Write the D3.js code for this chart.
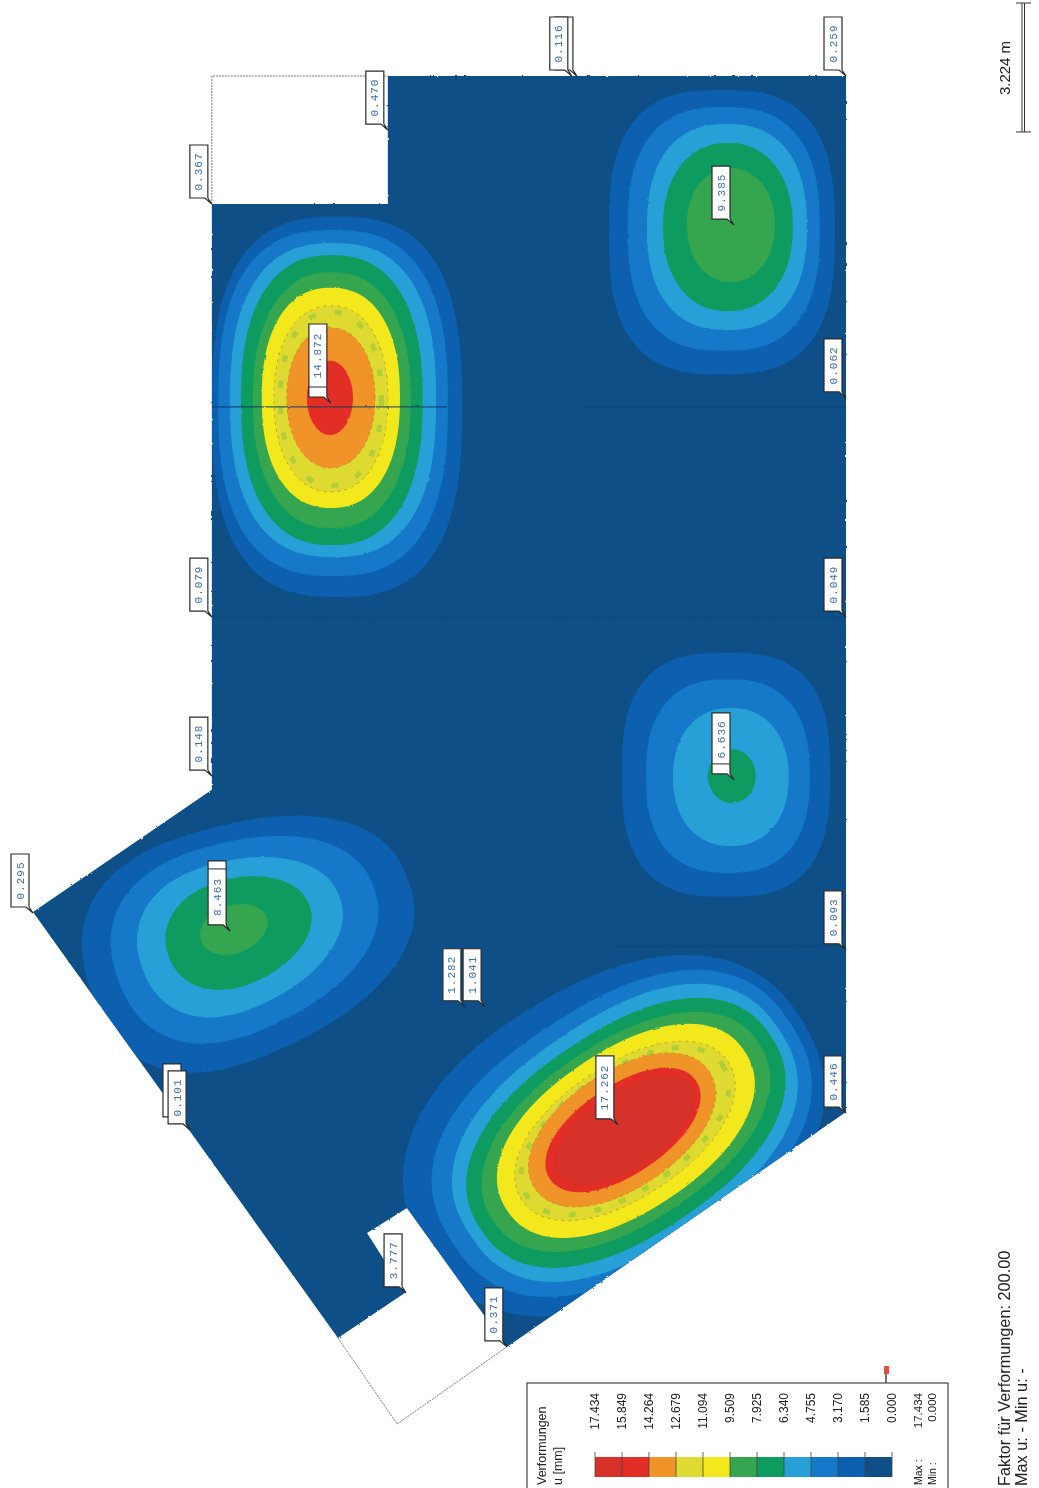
<!DOCTYPE html>
<html lang="en">
<head>
<meta charset="UTF-8">
<title>Verformungen u</title>
<script src="https://cdn.jsdelivr.net/npm/d3@7"></script>
<style>
    html, body { margin: 0; padding: 0; background: #fff; overflow: hidden; }
    text { font-family: "Liberation Sans", Arial, sans-serif; fill: #222; }
    .callout text { font-family: "Liberation Mono", monospace; font-size: 11px; letter-spacing: 1px; fill: #3d6ea6; }
</style>
</head>
<body>
<script>
    const w = 1039, h = 1488;

    // legend, top value first
    const legendLevels = ["17.434", "15.849", "14.264", "12.679", "11.094", "9.509", "7.925", "6.340", "4.755", "3.170", "1.585", "0.000"];
    const legendColors = ["#d7302a", "#e22d27", "#f0942a", "#dfda30", "#f3e81c", "#35a550", "#0f9b60", "#28a0d6", "#1278c8", "#0d60b0", "#0e5086"];

    // slab outline in plan units
    const slabOutline = [[11.09, 0], [25.41, 0], [25.41, 32.38], [14.81, 39.72], [11.69, 35.38], [10.44, 36.16],
        [11.63, 38.03], [9.53, 39.44], [0, 26.13], [5.59, 22.31], [5.59, 4], [11.09, 4]];
    const openings = [[[5.59, 4], [5.59, 0], [11.09, 0]], [[9.53, 39.44], [11.38, 42.13], [14.81, 39.72]]];

    // element joints: x from, x to, y, opacity
    const joints = [[5.59, 12.94, 10.34, 0.8], [17.16, 25.41, 10.34, 0.55], [5.59, 25.41, 16.91, 0.22], [18.03, 25.41, 27.19, 0.4]];

    // contour rows: band floor [mm], cx, cy, half length, half width, tilt, squareness, egg
    const fieldA = [
        [1.585, 9.50, 10.34, 3.91, 5.94, 0, 2.7, 0],
        [3.170, 9.38, 10.22, 3.59, 5.41, 0, 2.6, 0],
        [4.755, 9.38, 10.13, 3.22, 4.91, 0, 2.5, 0],
        [6.340, 9.34, 10.13, 2.84, 4.53, 0, 2.4, 0],
        [7.925, 9.34, 10.13, 2.47, 4.00, 0, 2.3, 0],
        [9.509, 9.31, 10.06, 2.16, 3.44, 0, 2.3, 0],
        [11.094, 9.31, 10.09, 1.78, 2.91, 0, 2.2, 0],
        [12.679, 9.31, 10.06, 1.38, 2.19, 0, 2.1, 0],
        [14.264, 9.28, 10.06, 0.72, 1.16, 0, 2, 0]
    ];
    const fieldB = [
        [1.585, 6.78, 26.90, 5.25, 3.60, -20, 2.4, 0.14],
        [3.170, 6.66, 26.81, 4.25, 2.95, -20, 2.3, 0.14],
        [4.755, 6.50, 26.78, 3.28, 2.31, -20, 2.2, 0.14],
        [6.340, 6.44, 26.72, 2.34, 1.66, -20, 2.1, 0.1],
        [7.925, 6.28, 26.66, 1.09, 0.75, -20, 2, 0.05]
    ];
    const fieldC = [
        [1.585, 21.66, 21.84, 3.25, 3.81, 0, 2.8, 0],
        [3.170, 21.72, 21.88, 2.56, 3.03, 0, 2.5, 0],
        [4.755, 21.81, 21.91, 1.81, 2.16, 0, 2.2, 0],
        [6.340, 21.84, 21.88, 0.75, 0.84, 0, 2, 0]
    ];
    const fieldD = [
        [1.585, 21.53, 4.88, 3.53, 4.44, 0, 2.8, 0],
        [3.170, 21.59, 4.78, 3.00, 3.81, 0, 2.6, 0],
        [4.755, 21.69, 4.72, 2.50, 3.22, 0, 2.4, 0],
        [6.340, 21.72, 4.72, 2.03, 2.63, 0, 2.2, 0],
        [7.925, 21.81, 4.66, 1.38, 1.78, 0, 2.1, 0]
    ];
    const fieldE = [
        [1.585, 18.15, 33.12, 6.90, 4.75, -31, 2.3, 0],
        [3.170, 18.40, 33.05, 6.30, 4.05, -33, 2.4, 0],
        [4.755, 18.50, 33.03, 5.80, 3.59, -34, 2.4, 0],
        [6.340, 18.53, 33.03, 5.45, 3.19, -34, 2.3, 0],
        [7.925, 18.53, 33.00, 5.00, 2.81, -34, 2.2, 0],
        [9.509, 18.53, 32.97, 4.47, 2.50, -34, 2.2, 0],
        [11.094, 18.50, 32.97, 3.88, 2.06, -34, 2.1, 0],
        [12.679, 18.41, 32.94, 3.28, 1.81, -34, 2.1, 0],
        [14.264, 18.44, 32.94, 2.75, 1.38, -34, 2.1, 0],
        [15.849, 18.50, 32.94, 2.50, 1.20, -34, 2, 0]
    ];

    // callouts: value, x and y of the tip, box length
    const calloutValues = ["", "0.116", "0.259", "0.470", "0.367", "9.385", "14.872", "0.062", "0.079", "0.049", "0.148", "6.636", "0.093", "0.295", "8.463", "1.282", "1.041", "0.446", "17.262", "", "0.101", "3.777", "0.371"];
    const calloutX = [17.00, 16.84, 25.41, 11.09, 5.59, 21.91, 9.31, 25.41, 5.59, 25.41, 5.59, 21.91, 25.41, 0, 6.16, 13.50, 14.13, 25.41, 18.28, 4.75, 4.91, 11.66, 14.81];
    const calloutY = [0, 0, 0, 1.69, 4, 4.66, 10.22, 10.06, 16.91, 16.91, 21.88, 22, 27.31, 26.16, 26.72, 29.09, 29.09, 32.41, 32.78, 32.72, 32.94, 38.03, 39.72];
    const calloutSize = [53, 53, 53, 53, 53, 53, 73, 53, 53, 53, 53, 61, 53, 53, 64, 52, 52, 51, 63, 53, 53, 53, 53];
    const calloutShift = [0, 0, 0, 0, 0, 0, -5, 0, 0, 0, 0, -4, 0, 0, 4, 0, 0, 0, 0, 0, 0, 0, 0];

    const scaleBarLabel = "3.224 m";
    const scaleBarLength = 4.03;   // plan units

    const xScale = d3.scaleLinear().domain([0, 25.41]).range([33, 846]);
    const yScale = d3.scaleLinear().domain([0, 42.13]).range([76, 1424]);
    const bandColor = d3.scaleThreshold()
        .domain(legendLevels.slice(1, -1).map(Number).reverse())
        .range(legendColors.slice().reverse());

    const svg = d3.select("body").append("svg").attr("width", w).attr("height", h)
        .style("display", "block");

    const defs = svg.append("defs");
    defs.append("clipPath").attr("id", "slabClip").append("path")
        .attr("d", d3.line().x(d => xScale(d[0])).y(d => yScale(d[1])).curve(d3.curveLinearClosed)(slabOutline));
    const rough = defs.append("filter").attr("id", "rough")
        .attr("x", "-2%").attr("y", "-2%").attr("width", "104%").attr("height", "104%");
    rough.append("feTurbulence").attr("type", "fractalNoise").attr("baseFrequency", 0.22).attr("numOctaves", 2).attr("seed", 4);
    rough.append("feDisplacementMap").attr("in", "SourceGraphic").attr("scale", 2.2);
    const soft = defs.append("filter").attr("id", "soft");
    soft.append("feGaussianBlur").attr("stdDeviation", 0.4);

    const page = svg.append("g").attr("filter", "url(#soft)");

    // dotted outline of the openings
    page.append("g").selectAll("path").data(openings).join("path")
        .attr("d", d3.line().x(d => xScale(d[0])).y(d => yScale(d[1])))
        .attr("fill", "none").attr("stroke", "#777").attr("stroke-width", 1).attr("stroke-dasharray", "2,1");

    const slab = page.append("g").attr("filter", "url(#rough)");
    const inner = slab.append("g").attr("clip-path", "url(#slabClip)");
    inner.append("rect").attr("x", 0).attr("y", 0).attr("width", w).attr("height", h).attr("fill", bandColor(0));

    function contour(row) {
        const [, cx, cy, a, b, tilt, n, egg] = row;
        const phi = tilt * Math.PI / 180;
        return d3.range(0, 360, 4).map(deg => {
            const t = deg * Math.PI / 180;
            const c = Math.cos(t), s = Math.sin(t);
            const u = a * Math.sign(c) * Math.pow(Math.abs(c), 2 / n);
            const v = b * Math.sign(s) * Math.pow(Math.abs(s), 2 / n) * (1 - egg * u / a);
            return [cx + u * Math.cos(phi) - v * Math.sin(phi), cy + u * Math.sin(phi) + v * Math.cos(phi)];
        });
    }
    const contourLine = d3.line().x(d => xScale(d[0])).y(d => yScale(d[1])).curve(d3.curveLinearClosed);

    [fieldA, fieldB, fieldC, fieldD, fieldE].forEach(field => {
        const g = inner.append("g");
        field.forEach(row => {
            g.append("path").attr("d", contourLine(contour(row))).attr("fill", bandColor(row[0]));
            // patchy green and the dashed rim in the pale yellow band of the scan
            if (row[0] === 11.094) {
                g.append("path").attr("d", contourLine(contour([row[0], row[1], row[2], row[3] - 0.2, row[4] - 0.2, row[5], row[6], 0])))
                    .attr("fill", "none").attr("stroke", "#9cc83a").attr("stroke-width", 5)
                    .attr("stroke-opacity", 0.7).attr("stroke-dasharray", "7,19");
            }
            if (row[0] === 11.094 || row[0] === 12.679) {
                g.append("path").attr("d", contourLine(contour(row)))
                    .attr("fill", "none").attr("stroke", "#a9752b").attr("stroke-width", 0.9)
                    .attr("stroke-opacity", 0.6).attr("stroke-dasharray", "3,4");
            }
        });
    });

    inner.append("g").selectAll("line").data(joints).join("line")
        .attr("x1", d => xScale(d[0])).attr("x2", d => xScale(d[1]))
        .attr("y1", d => yScale(d[2])).attr("y2", d => yScale(d[2]))
        .attr("stroke", "#123a60").attr("stroke-width", 1.2).attr("stroke-opacity", d => d[3]);

    // callouts
    const callouts = page.append("g").attr("class", "callout").selectAll("g")
        .data(calloutValues.map((v, i) => ({ v, x: xScale(calloutX[i]), y: yScale(calloutY[i]), len: calloutSize[i], shift: calloutShift[i] })))
        .join("g")
        .attr("transform", d => `translate(${d.x},${d.y})`);
    callouts.append("path")
        .attr("d", d => `M-4,-6V${-6 - d.len}H-22V-6H-7L0,0L-4,-6`)
        .attr("fill", "#fff").attr("stroke", "#2b2b2b").attr("stroke-width", 1.2);
    callouts.filter(d => d.shift !== 0).append("line")
        .attr("x1", -22).attr("x2", -4)
        .attr("y1", d => d.shift < 0 ? -16 : -6 - d.len + 8)
        .attr("y2", d => d.shift < 0 ? -16 : -6 - d.len + 8)
        .attr("stroke", "#2b2b2b").attr("stroke-width", 1);
    callouts.append("text")
        .attr("transform", d => `translate(-9.5,${-6 - d.len / 2 + d.shift}) rotate(-90)`)
        .attr("text-anchor", "middle")
        .text(d => d.v);

    // legend
    const legend = page.append("g");
    legend.append("rect").attr("x", 527).attr("y", 1383).attr("width", 421).attr("height", 120)
        .attr("fill", "#fff").attr("stroke", "#222").attr("stroke-width", 1);

    const legendX = d3.scaleBand().domain(d3.range(legendColors.length)).range([595, 892]);
    legend.append("g").selectAll("rect").data(legendColors).join("rect")
        .attr("x", (d, i) => legendX(i)).attr("y", 1457)
        .attr("width", legendX.bandwidth()).attr("height", 20).attr("fill", d => d);
    legend.append("g").selectAll("line").data(legendLevels).join("line")
        .attr("x1", (d, i) => 595 + i * legendX.bandwidth()).attr("x2", (d, i) => 595 + i * legendX.bandwidth())
        .attr("y1", 1452).attr("y2", 1477)
        .attr("stroke", "#444").attr("stroke-width", 0.8);
    legend.append("g").selectAll("text").data(legendLevels).join("text")
        .attr("transform", (d, i) => `translate(${599 + i * legendX.bandwidth()},1393) rotate(-90)`)
        .attr("text-anchor", "end").attr("font-size", 12)
        .text(d => d);

    const rotated = (x, y, str, size, anchor) => page.append("text")
        .attr("transform", `translate(${x},${y}) rotate(-90)`)
        .attr("text-anchor", anchor || "start").attr("font-size", size).text(str);

    rotated(546, 1485, "Verformungen", 12.5);
    rotated(562, 1485, "u [mm]", 12.5);
    rotated(922, 1485, "Max :", 10.5);
    rotated(936, 1485, "Min :", 10.5);
    rotated(922, 1393, legendLevels[0], 11.5, "end");
    rotated(936, 1393, legendLevels[11], 11.5, "end");
    rotated(1010, 1486, "Faktor für Verformungen: 200.00", 16.3);
    rotated(1027, 1486, "Max u: - Min u: -", 16.3);

    // red marker above the legend
    page.append("line").attr("x1", 886).attr("x2", 886).attr("y1", 1368).attr("y2", 1383)
        .attr("stroke", "#444").attr("stroke-width", 1.5);
    page.append("rect").attr("x", 884).attr("y", 1366).attr("width", 5).attr("height", 8).attr("fill", "#e0504a");

    // scale bar
    const barTop = 3, barBottom = barTop + (yScale(scaleBarLength) - yScale(0));
    const bar = page.append("g").attr("stroke", "#333").attr("stroke-width", 1);
    bar.append("line").attr("x1", 1022).attr("x2", 1022).attr("y1", barTop).attr("y2", barBottom);
    bar.append("line").attr("x1", 1024.5).attr("x2", 1024.5).attr("y1", barTop).attr("y2", barBottom);
    bar.selectAll("line.end").data([barTop, barBottom]).join("line").attr("class", "end")
        .attr("x1", 1016).attr("x2", 1031).attr("y1", d => d).attr("y2", d => d);
    rotated(1010, 68, scaleBarLabel, 15, "middle");
</script>
</body>
</html>
